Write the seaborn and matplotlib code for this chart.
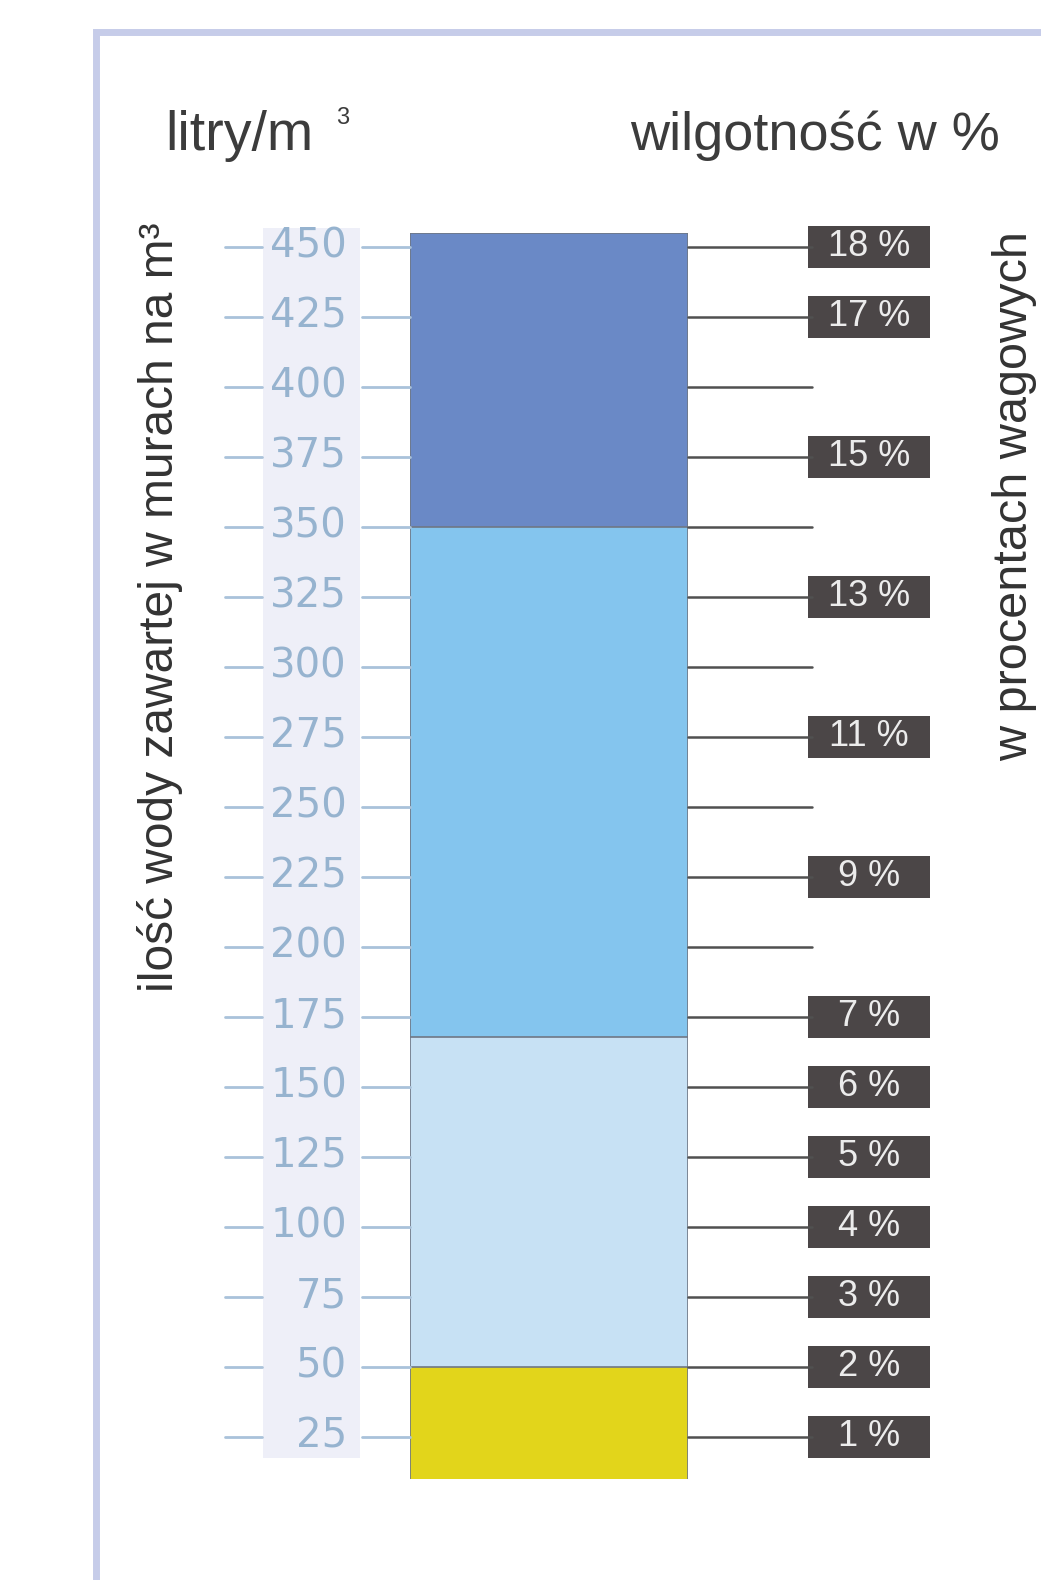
import matplotlib.pyplot as plt
import matplotlib.transforms as mtransforms
from matplotlib.patches import Rectangle
import seaborn as sns

W, H = 1041, 1580

# water content scale (litres per m3) and matching moisture percentages
litry_ticks = [450, 425, 400, 375, 350, 325, 300, 275, 250, 225, 200, 175,
               150, 125, 100, 75, 50, 25]
procent_labels = ['18 %', '17 %', '', '15 %', '', '13 %', '', '11 %', '', '9 %', '',
                  '7 %', '6 %', '5 %', '4 %', '3 %', '2 %', '1 %']

# top value of each band of the bar, drawn tallest first
segment_tops = [455, 350, 168, 50]
segment_colors = ['#6a89c6', '#84c5ee', '#c7e1f4', '#e2d51b']
y_min, y_max = 10, 455

sns.set_theme(style='white')
plt.rcParams['font.family'] = ['Liberation Sans', 'DejaVu Sans']

fig = plt.figure(figsize=(W / 100, H / 100), dpi=100)
fig.patch.set_facecolor('white')


def fx(px):
    return px / W


def fy(py):
    return 1 - py / H


# outer frame
fig.add_artist(Rectangle((fx(96), fy(1700)), fx(1300) - fx(96), fy(32) - fy(1700),
                         transform=fig.transFigure, fill=False,
                         edgecolor='#c6cce9', lw=5, zorder=0))
# pale strip behind the litre numbers
fig.add_artist(Rectangle((fx(263), fy(1458)), fx(360) - fx(263), fy(228) - fy(1458),
                         transform=fig.transFigure, facecolor='#eeeff8',
                         edgecolor='none', zorder=0))

bar_left, bar_right = 410, 688
ax_top, ax_bottom = 233, 1479
ax = fig.add_axes([fx(bar_left), fy(ax_bottom), fx(bar_right) - fx(bar_left),
                   fy(ax_top) - fy(ax_bottom)])

for top, col in zip(segment_tops, segment_colors):
    sns.barplot(x=['mur'], y=[top], color=col, width=1, saturation=1,
                edgecolor='#6f7785', linewidth=1.2, ax=ax)

ax.set_xlim(-0.5, 0.5)
ax.set_ylim(y_min, y_max)
ax.axis('off')

tr = mtransforms.blended_transform_factory(fig.transFigure, ax.transData)
px_per_unit = (ax_bottom - ax_top) / (y_max - y_min)

for v, lab in zip(litry_ticks, procent_labels):
    # left scale
    ax.plot([fx(225), fx(262)], [v, v], transform=tr, color='#a9c2da', lw=2, clip_on=False)
    ax.plot([fx(362), fx(410)], [v, v], transform=tr, color='#a9c2da', lw=2, clip_on=False)
    ax.text(fx(347), v, str(v), transform=tr, ha='right', va='center',
            fontsize=29, family='DejaVu Sans', color='#96b3cf')
    # right scale
    ax.plot([fx(688), fx(812)], [v, v], transform=tr, color='#505050', lw=1.8, clip_on=False)
    if lab:
        bh = 42 / px_per_unit
        ax.add_patch(Rectangle((fx(808), v - bh / 2), fx(930) - fx(808), bh,
                               transform=tr, facecolor='#4b4647', edgecolor='none',
                               clip_on=False))
        ax.text(fx(869), v, lab, transform=tr, ha='center', va='center',
                color='#ececec', fontsize=26)

# headings
fig.text(fx(165), fy(150), 'litry/m', fontsize=40, color='#3c3c3c', va='baseline')
fig.text(fx(336), fy(124), '3', fontsize=17, color='#3c3c3c', va='baseline')
fig.text(fx(1000), fy(150), 'wilgotność w %', fontsize=39, color='#3c3c3c',
         ha='right', va='baseline')

fig.text(fx(160), fy(607), 'ilość wody zawartej w murach na m³', rotation=90,
         ha='center', va='center', fontsize=34.5, color='#333333')
fig.text(fx(1015), fy(496), 'w procentach wagowych', rotation=90,
         ha='center', va='center', fontsize=35, color='#333333')

fig.savefig('out.png', dpi=100)
